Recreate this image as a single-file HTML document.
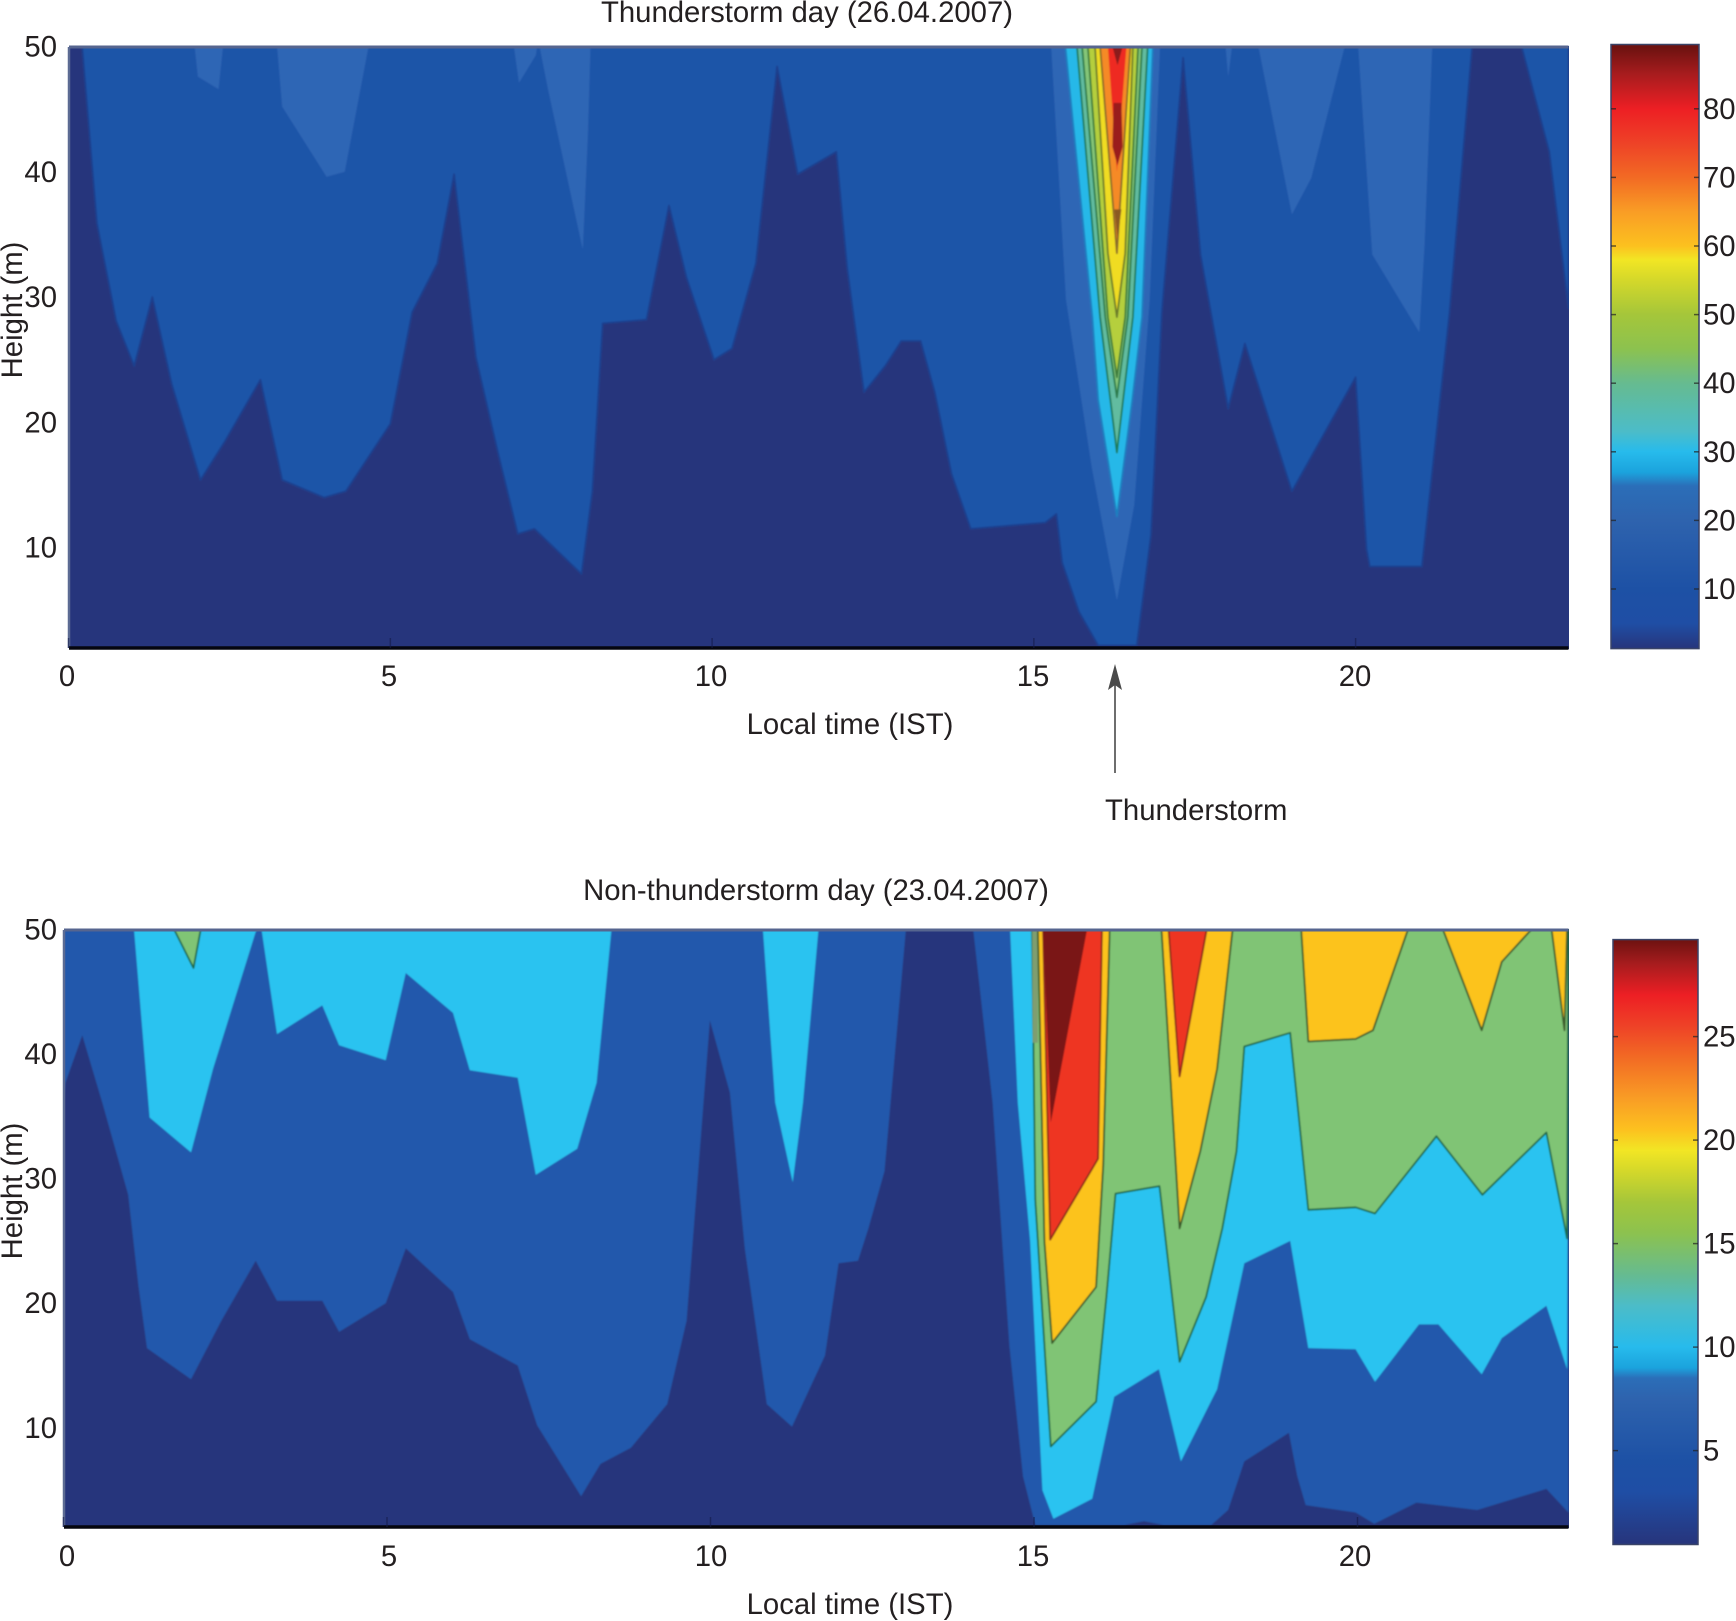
<!DOCTYPE html>
<html lang="en">
<head>
<meta charset="utf-8">
<title>Thunderstorm and non-thunderstorm day contour charts</title>
<style>
html,body{margin:0;padding:0;background:#fff;}
svg{display:block;}
text{font-family:"Liberation Sans",sans-serif;font-size:29.3px;fill:#231f20;}
</style>
</head>
<body>
<svg id="figure" xmlns="http://www.w3.org/2000/svg" width="1736" height="1621" viewBox="0 0 1736 1621">
  <defs>
    <filter id="soft" x="-2%" y="-2%" width="104%" height="104%"><feGaussianBlur stdDeviation="0.8"/></filter>
    <clipPath id="clipTop"><rect x="69" y="46" width="1500" height="603"/></clipPath>
    <clipPath id="clipBottom"><rect x="64" y="929" width="1505" height="599"/></clipPath>
    <linearGradient id="gradTop" x1="0" y1="0" x2="0" y2="1"></linearGradient>
    <linearGradient id="gradBottom" x1="0" y1="0" x2="0" y2="1"></linearGradient>
  </defs>
  <text x="807" y="22" text-anchor="middle">Thunderstorm day (26.04.2007)</text>
  <text x="816" y="900" text-anchor="middle">Non-thunderstorm day (23.04.2007)</text>
  <g id="topPlot" clip-path="url(#clipTop)"></g>
  <g id="bottomPlot" clip-path="url(#clipBottom)"></g>
  <g id="topAxes"></g>
  <g id="bottomAxes"></g>
  <g id="topBar"></g>
  <g id="bottomBar"></g>
  <text transform="translate(22 310) rotate(-90)" text-anchor="middle">Height (m)</text>
  <text transform="translate(22 1191) rotate(-90)" text-anchor="middle">Height (m)</text>
  <text x="850" y="734" text-anchor="middle">Local time (IST)</text>
  <text x="850" y="1614" text-anchor="middle">Local time (IST)</text>
  <g>
    <line x1="1115" y1="773" x2="1115" y2="680" stroke="#4a4a4a" stroke-width="1.6"/>
    <polygon points="1115,664 1122,690 1115,685 1108,690" fill="#4a4a4a"/>
    <text x="1105" y="820">Thunderstorm</text>
  </g>
</svg>
<script>
// ---- axis ticks ----
var xTicks = [0, 5, 10, 15, 20];
var yTicks = [10, 20, 30, 40, 50];
var topBarTicks = [10, 20, 30, 40, 50, 60, 70, 80];
var bottomBarTicks = [5, 10, 15, 20, 25];

// ---- top chart contours: [hour, height] ----
var topLevel1 = [[.21,50],[.44,35.9],[.74,28.1],[1.02,24.5],[1.3,30],[1.6,23.1],[2.05,15.4],[2.42,18.4],[2.98,23.4],[3.32,15.4],[3.97,14],[4.31,14.5],[5,19.9],[5.34,28.8],[5.73,32.7],[5.99,39.8],[6.33,25.2],[6.68,17.4],[6.98,11.1],[7.24,11.5],[7.97,7.9],[8.14,14.5],[8.3,27.9],[8.98,28.2],[9.33,37.3],[9.6,31.6],[10.03,25],[10.31,25.9],[10.68,32.7],[11.01,48.4],[11.33,39.8],[11.93,41.6],[12.1,32.3],[12.36,22.4],[12.69,24.5],[12.94,26.5],[13.24,26.5],[13.46,22.4],[13.72,15.9],[14.02,11.5],[15.18,12],[15.35,12.7],[15.44,8.8],[15.7,4.9],[16,2.2],[16.6,2.2],[16.82,11],[16.99,28.8],[17.32,49.1],[17.59,33.4],[18.02,21.1],[18.28,26.3],[19.01,14.5],[20,23.6],[20.17,9.9],[20.22,8.5],[21.03,8.5],[21.46,28.8],[21.81,50],[22.58,50],[23.01,41.6],[23.31,29.1],[23.31,50]];
var topLevel2a = [[1.96,50],[2.01,47.6],[2.33,46.6],[2.4,50]];
var topLevel2b = [[3.24,50],[3.32,45.2],[4.01,39.6],[4.29,40],[4.66,50]];
var topLevel2c = [[6.92,50],[7,47.1],[7.26,49.3],[7.28,50]];
var topLevel2d = [[7.32,50],[7.45,46.6],[7.99,33.8],[8.07,43],[8.11,50]];
var topLevel2e = [[18.49,50],[19.01,36.6],[19.31,39.5],[19.83,50]];
var topLevel2f = [[20.04,50],[20.26,33.4],[20.99,27.2],[21.07,34.1],[21.19,50]];
var topLevel2g = [[17.98,50],[18.02,47.6],[18.08,50]];
var stormLevel2 = [[15.27,50],[15.5,29.8],[15.9,16.4],[16.29,5.8],[16.56,13.4],[16.8,29.8],[16.96,50]];
var stormLevel3 = [[15.49,50],[15.91,28.4],[16,21.8],[16.29,12.5],[16.53,21.8],[16.68,28.4],[16.85,50]];
var stormLevel4 = [[15.67,50],[16.03,28.4],[16.29,17.6],[16.54,28.4],[16.77,50]];
var stormLevel5 = [[15.75,50],[16.11,28.4],[16.29,22],[16.46,28.4],[16.68,50]];
var stormLevel6 = [[15.84,50],[16.15,28.4],[16.29,23.6],[16.42,28.4],[16.62,50]];
var stormLevel7 = [[15.95,50],[16.15,33.5],[16.29,28.4],[16.42,33.5],[16.54,50]];
var stormLevel8 = [[16.03,50],[16.29,33.5],[16.5,50]];
var stormLevel9 = [[16.15,50],[16.29,40],[16.44,50]];
var stormLevel10a = [[16.22,50],[16.3,48.5],[16.38,50]];
var stormLevel10b = [[16.24,45.5],[16.36,45.5],[16.38,42],[16.3,40.5],[16.22,42]];
var stormLevel10c = [[16.25,37],[16.36,37],[16.3,34.6]];

// ---- bottom chart contours: [hour, height] ----
var bottomLevel1 = [[0,36],[.03,37.7],[.29,41.5],[.6,36.1],[1,28.7],[1.16,21.3],[1.29,16.4],[1.97,13.9],[2.44,18.6],[2.97,23.4],[3.3,20.2],[4,20.2],[4.26,17.7],[4.98,20],[5.29,24.4],[6.02,20.9],[6.28,17.1],[7.02,15],[7.32,10.2],[8,4.5],[8.3,7.1],[8.77,8.4],[9.33,11.9],[9.63,18.6],[9.99,42.7],[10.3,36.9],[10.53,24.4],[10.87,11.9],[11.26,10.1],[11.77,15.8],[11.98,23.2],[12.28,23.4],[12.44,26],[12.69,30.6],[13.02,50],[14.06,50],[14.36,36.1],[14.62,16.6],[14.83,6.1],[15.02,2.2],[16.4,2.2],[16.7,2.5],[17,2.2],[17.74,2.2],[18,3.4],[18.25,7.3],[18.94,9.6],[19.07,6.1],[19.2,3.8],[19.97,3.2],[20.26,2.3],[20.91,4],[21.85,3.4],[22.92,5.1],[23.26,3.2],[23.26,50],[0,50]];
var bottomCyanA = [[1.09,50],[1.33,34.9],[1.97,32.1],[2.31,38.8],[2.97,49.8],[3,50]];
var bottomCyanB = [[3.06,50],[3.3,41.6],[4,43.9],[4.26,40.7],[4.98,39.5],[5.29,46.5],[6.02,43.3],[6.28,38.7],[7.02,38.1],[7.3,30.3],[7.94,32.4],[8.24,37.7],[8.47,50]];
var bottomCyanC = [[10.81,50],[11,36.1],[11.27,29.7],[11.43,36.1],[11.67,50]];
var bottomCyanMain = [[14.63,50],[14.75,36.1],[14.94,25],[15.13,5],[15.3,2.7],[15.9,4.3],[16.24,12.5],[16.93,14.7],[17.27,7.3],[17.83,13.1],[18.25,23.2],[18.96,25],[19.24,16.4],[19.97,16.3],[20.27,13.7],[20.95,18.3],[21.25,18.3],[21.92,14.3],[22.23,17.2],[22.92,19.8],[23.24,14.7],[23.26,50]];
var bottomGreenTiny = [[1.71,50],[2.01,46.9],[2.12,50]];
var bottomGreenMain = [[14.97,50],[15.02,28.3],[15.26,8.5],[15.96,12.1],[16.12,20.6],[16.26,28.8],[16.94,29.4],[17.25,15.3],[17.66,20.5],[17.91,26],[18.13,32.2],[18.25,40.6],[18.96,41.7],[19.24,27.5],[19.97,27.7],[20.27,27.2],[21.22,33.4],[21.93,28.7],[22.92,33.7],[23.24,25.2],[23.26,50]];
var bottomGreyStrip = [[14.97,50],[15.06,50],[15.06,40.9],[14.98,40.9]];
var bottomOrangeA = [[15.06,50],[15.16,25],[15.28,16.8],[15.96,21.3],[16.07,31],[16.17,50]];
var bottomOrangeB = [[16.97,50],[17.25,26],[17.57,32.2],[17.83,38.8],[18.07,50]];
var bottomOrangeC = [[19.13,50],[19.24,41],[19.97,41.2],[20.24,41.9],[20.78,50]];
var bottomOrangeD = [[21.32,50],[21.92,41.9],[22.23,47.4],[22.69,50]];
var bottomOrangeE = [[23,50],[23.2,41.9],[23.24,50]];
var bottomRedA = [[15.14,50],[15.25,25.1],[15.99,31.6],[16.05,50]];
var bottomRedB = [[17.08,50],[17.25,38.2],[17.67,50]];
var bottomDarkRed = [[15.14,50],[15.26,34.5],[15.82,50]];

// ---- colorbar stops ----
var barColors = ['#27357c','#1f4ea5','#1d51a5','#2e63ae','#2b6eb8','#1ba3dd','#27bbec','#4cbcc8','#66bb90','#8cc24f','#a5c63a','#d4d82a','#f2e624','#fcc11f','#f99d25','#f26a24','#ee4227','#ed1f24','#a81c1e','#6d1210'];
var topBarStops = [1.3,5,10,20,25,27,30,33,40,45,50,55,58,60,65,70,75,80,85,89];
var bottomBarStops = [.46,3,4.5,7.5,8.5,9,10,12,13.5,15.5,17,18.5,19.5,20.5,22,24,25.5,27,28.5,29.75];

// ---- axis functions ----
function xTop(t){return 68.6 + 64.35*t;}
function yTop(h){return 46.5 + (50-h)*12.53;}
function xBottom(t){return 63.5 + 64.7*t;}
function yBottom(h){return 929.4 + (50-h)*12.46;}
function xLabel(t){return 67 + 64.4*t;}
function barYTop(v){return 589 - (v-10)*6.86;}
function barYBottom(v){return 1450.6 - (v-5)*20.7;}

var NS = 'http://www.w3.org/2000/svg';
function make(tag, parent, attrs){
  var el = document.createElementNS(NS, tag);
  for (var k in attrs){ el.setAttribute(k, attrs[k]); }
  parent.appendChild(el);
  return el;
}
function band(parent, pairs, xf, yf, fill, stroke, name){
  var pts = pairs.map(function(p){return xf(p[0]).toFixed(1)+','+yf(p[1]).toFixed(1);}).join(' ');
  var el = make('polygon', parent, {points:pts, fill:fill, stroke:stroke||'none', 'stroke-width':stroke?1.8:0, 'stroke-linejoin':'round'});
  
  
}

// ---- top plot ----
var topPlot = document.getElementById('topPlot');
var topSoft = make('g', topPlot, {filter:'url(#soft)'});
var topBack = make('rect', topSoft, {x:60, y:40, width:1520, height:620, fill:'#27357c'});


band(topSoft, topLevel1, xTop, yTop, '#1f54a8', '#1c3f8e', 'top-level-1');
[topLevel2a, topLevel2b, topLevel2c, topLevel2d, topLevel2e, topLevel2f, topLevel2g, stormLevel2].forEach(function(p){
  band(topSoft, p, xTop, yTop, '#2e66b5', null, 'top-level-2');
});
band(topSoft, stormLevel3, xTop, yTop, '#27b8e8', '#1f7fc0', 'storm-level-3');
band(topSoft, stormLevel4, xTop, yTop, '#62bca0', '#1f7a5a', 'storm-level-4');
band(topSoft, stormLevel5, xTop, yTop, '#85c678', '#2a7a4a', 'storm-level-5');
band(topSoft, stormLevel6, xTop, yTop, '#b5cf3d', '#3a7a3a', 'storm-level-6');
band(topSoft, stormLevel7, xTop, yTop, '#f0dc20', '#6a7a2a', 'storm-level-7');
band(topSoft, stormLevel8, xTop, yTop, '#f58a25', '#8a6a2a', 'storm-level-8');
band(topSoft, stormLevel9, xTop, yTop, '#ee2a24', null, 'storm-level-9');
band(topSoft, stormLevel10a, xTop, yTop, '#8a1a1a', null, 'storm-level-10');
band(topSoft, stormLevel10b, xTop, yTop, '#9a1c1c', null, 'storm-level-10');
band(topSoft, stormLevel10c, xTop, yTop, '#8a5a20', null, 'storm-level-10');

// ---- bottom plot ----
var bottomPlot = document.getElementById('bottomPlot');
var bottomSoft = make('g', bottomPlot, {filter:'url(#soft)'});
var bottomBack = make('rect', bottomSoft, {x:55, y:920, width:1525, height:620, fill:'#27357c'});


band(bottomSoft, bottomLevel1, xBottom, yBottom, '#2259ac', null, 'bottom-level-1');
[bottomCyanA, bottomCyanB, bottomCyanC, bottomCyanMain].forEach(function(p){
  band(bottomSoft, p, xBottom, yBottom, '#2ac3f0', null, 'bottom-level-2');
});
[bottomGreenTiny, bottomGreenMain].forEach(function(p){
  band(bottomSoft, p, xBottom, yBottom, '#80c475', '#1f6a4a', 'bottom-level-3');
});
band(bottomSoft, bottomGreyStrip, xBottom, yBottom, '#7f9e70', null, 'bottom-grey-strip');
[bottomOrangeA, bottomOrangeB, bottomOrangeC, bottomOrangeD, bottomOrangeE].forEach(function(p){
  band(bottomSoft, p, xBottom, yBottom, '#fcc31e', '#3a5a2a', 'bottom-level-4');
});
[bottomRedA, bottomRedB].forEach(function(p){
  band(bottomSoft, p, xBottom, yBottom, '#ee3424', '#8a2a1a', 'bottom-level-5');
});
band(bottomSoft, bottomDarkRed, xBottom, yBottom, '#7a1416', null, 'bottom-level-6');

// ---- axes ----
function axes(groupId, xf, yf, left, right, top, bottom, tickY){
  var g = document.getElementById(groupId);
  var topLine = make('line', g, {x1:left, y1:top, x2:right, y2:top, stroke:'#56658f', 'stroke-width':3});
  
  
  var leftLine = make('line', g, {x1:left, y1:top, x2:left, y2:bottom, stroke:'#5c6b93', 'stroke-width':2.5});
  
  
  var bottomLine = make('line', g, {x1:left, y1:bottom, x2:right, y2:bottom, stroke:'#05060f', 'stroke-width':3.5});
  
  
  xTicks.forEach(function(t){
    var tick = make('line', g, {x1:xf(t), y1:bottom, x2:xf(t), y2:bottom-10, stroke:'#141b4a', 'stroke-width':1.5, opacity:.6});
    
    
    var lab = make('text', g, {x:xLabel(t), y:tickY, 'text-anchor':'middle'});
    lab.textContent = String(t);
    
    
  });
  yTicks.forEach(function(v){
    var lab = make('text', g, {x:57, y:yf(v)+10, 'text-anchor':'end'});
    lab.textContent = String(v);
    
    
  });
}
axes('topAxes', xTop, yTop, 69, 1568.5, 47, 648, 686);
axes('bottomAxes', xBottom, yBottom, 64, 1568.5, 930, 1527, 1566);

// ---- colorbars ----
function colorbar(groupId, gradId, stops, ticks, yf, left, right, top, bottom){
  var grad = document.getElementById(gradId);
  for (var i = stops.length - 1; i >= 0; i--){
    var off = (yf(stops[i])-top)/(bottom-top);
    make('stop', grad, {offset:off.toFixed(4), 'stop-color':barColors[i]});
  }
  var g = document.getElementById(groupId);
  var r = make('rect', g, {x:left, y:top, width:right-left, height:bottom-top, fill:'url(#'+gradId+')', stroke:'#3a4468', 'stroke-width':1.5});
  
  
  ticks.forEach(function(v){
    var y = yf(v);
    var a = make('line', g, {x1:left, y1:y, x2:left+5, y2:y, stroke:'#222', 'stroke-width':1.5, opacity:.7});
    
    
    var b = make('line', g, {x1:right-5, y1:y, x2:right, y2:y, stroke:'#222', 'stroke-width':1.5, opacity:.7});
    
    
    var lab = make('text', g, {x:1703, y:y+10, 'text-anchor':'start'});
    lab.textContent = String(v);
    
    
  });
}
colorbar('topBar', 'gradTop', topBarStops, topBarTicks, barYTop, 1611, 1699, 44.5, 648.6);
colorbar('bottomBar', 'gradBottom', bottomBarStops, bottomBarTicks, barYBottom, 1613, 1698, 939.6, 1544.5);
</script>
</body>
</html>
